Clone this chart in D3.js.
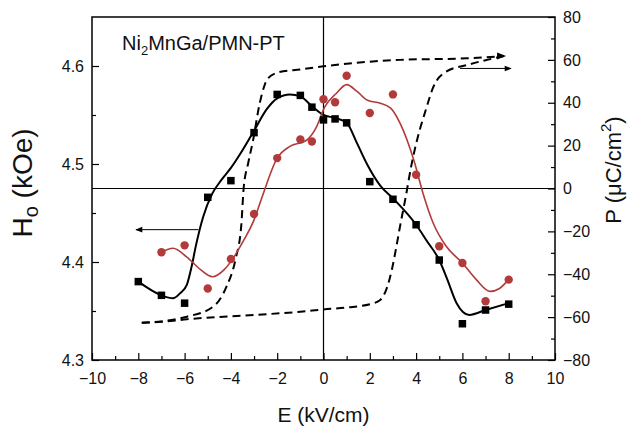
<!DOCTYPE html>
<html>
<head>
<meta charset="utf-8">
<script src="https://cdn.jsdelivr.net/npm/d3@7"></script>
<style>
  html, body { margin: 0; padding: 0; background: #fff; }
  svg { display: block; font-family: "Liberation Sans", Arial, sans-serif; }
</style>
</head>
<body>
<svg id="chart" width="628" height="428"></svg>
<script>
// ---- Data ----
const eBlack = [-8, -7, -6, -5, -4, -3, -2, -1, -0.5, 0, 0.5, 1, 2, 3, 4, 5, 6, 7, 8];
const hBlack = [4.380, 4.366, 4.358, 4.466, 4.483, 4.532, 4.571, 4.570, 4.558, 4.545, 4.546, 4.542, 4.482, 4.464, 4.438, 4.402, 4.337, 4.351, 4.357];

const eRed = [-7, -6, -5, -4, -3, -2, -1, -0.5, 0, 0.5, 1, 2, 3, 4, 5, 6, 7, 8];
const hRed = [4.410, 4.417, 4.373, 4.403, 4.449, 4.506, 4.525, 4.523, 4.566, 4.563, 4.590, 4.552, 4.571, 4.489, 4.416, 4.399, 4.360, 4.382];

// smoothed fit curves
const fitBlackE = [-8, -7, -6.5, -6.2, -5.9, -5.7, -5.5, -5.2, -4.8, -4.4, -4, -3.5, -3, -2.45, -2, -1.45, -1, -0.5, 0, 0.5, 1, 1.45, 1.9, 2.45, 3, 4, 4.45, 5, 5.35, 5.75, 6.3, 7, 8];
const fitBlackH = [4.380, 4.366, 4.363, 4.368, 4.377, 4.395, 4.418, 4.446, 4.470, 4.484, 4.496, 4.514, 4.534, 4.556, 4.567, 4.571, 4.569, 4.559, 4.550, 4.547, 4.542, 4.521, 4.499, 4.478, 4.465, 4.438, 4.422, 4.402, 4.382, 4.358, 4.346, 4.351, 4.358];

const fitRedE = [-7, -6.5, -5.9, -5.3, -4.8, -4.3, -3.9, -3.45, -3, -2.7, -2, -1.45, -0.75, -0.3, 0.05, 0.55, 1, 1.45, 1.9, 2.45, 2.9, 3.3, 3.9, 4.3, 4.75, 5.3, 6, 6.6, 7.2, 7.6, 8];
const fitRedH = [4.410, 4.414, 4.405, 4.392, 4.385, 4.392, 4.404, 4.422, 4.443, 4.463, 4.506, 4.518, 4.524, 4.538, 4.558, 4.572, 4.581, 4.574, 4.565, 4.562, 4.557, 4.542, 4.504, 4.470, 4.439, 4.416, 4.399, 4.382, 4.370, 4.373, 4.382];

// P-E hysteresis loop (right axis)
const loopLowerE = [-7.85, -7, -5.9, -3, -1, 0, 1, 2, 2.45, 2.75, 2.95, 3.15, 3.3, 3.55, 3.8, 4.05, 4.4, 4.75, 5.3, 6.2, 7.8];
const loopLowerP = [-62.6, -62.2, -61, -59, -57.5, -56.4, -55.5, -54, -52, -46, -38, -27, -18, -4, 11, 23, 36, 47.5, 54.5, 57.6, 61.8];
const loopUpperE = [-7.85, -7, -5.9, -4.75, -4.2, -3.8, -3.55, -3.45, -3.25, -3.05, -2.75, -2.4, -1.9, -1, 0, 3.3, 6.2, 7.8];
const loopUpperP = [-62.6, -62, -59.8, -55, -46, -33, -17, 0, 12, 22, 40, 51.4, 54.3, 55.5, 57, 60, 60.7, 61.8];

// axis ticks
const xTicks = [-10, -8, -6, -4, -2, 0, 2, 4, 6, 8, 10];
const yLeftTicks = [4.3, 4.4, 4.5, 4.6];
const yRightTicks = [-80, -60, -40, -20, 0, 20, 40, 60, 80];

// annotation arrows: [x1, y1, x2, y2] in data units
const arrowLeft = [-5.4, 4.433, -8.1, 4.433];   // left axis units
const arrowRight = [5.9, 56, 8.1, 56];          // right axis units

// ---- Layout ----
const svg = d3.select("#chart");
const L = 92, R = 555, T = 17, B = 360;

const x = d3.scaleLinear().domain([-10, 10]).range([L, R]);
const yL = d3.scaleLinear().domain([4.3, 4.65]).range([B, T]);
const yR = d3.scaleLinear().domain([-80, 80]).range([B, T]);

const red = "#b23a3a";

// defs: arrowheads
const defs = svg.append("defs");
defs.append("marker").attr("id", "ah").attr("viewBox", "0 0 10 10")
  .attr("refX", 9).attr("refY", 5).attr("markerWidth", 9).attr("markerHeight", 7)
  .attr("markerUnits", "userSpaceOnUse").attr("orient", "auto")
  .append("path").attr("d", "M0,1 L10,5 L0,9 Z").attr("fill", "#000");

// clip
defs.append("clipPath").attr("id", "clip").append("rect")
  .attr("x", L).attr("y", T).attr("width", R - L).attr("height", B - T);

// reference lines
svg.append("line").attr("x1", x(0)).attr("x2", x(0)).attr("y1", T).attr("y2", B)
  .attr("stroke", "#000").attr("stroke-width", 1.2);
svg.append("line").attr("x1", L).attr("x2", R).attr("y1", yR(0)).attr("y2", yR(0))
  .attr("stroke", "#000").attr("stroke-width", 1.2);

// axes
const fontSize = 16;
const xAxis = d3.axisBottom(x).tickValues(xTicks).tickSize(-7).tickPadding(13).tickFormat(d3.format("d"));
const xMinor = d3.axisBottom(x).tickValues(d3.range(-9, 10, 2)).tickSize(-4).tickFormat("");
svg.append("g").attr("transform", `translate(0,${B})`).call(xAxis);
svg.append("g").attr("transform", `translate(0,${B})`).call(xMinor);

const yLAxis = d3.axisLeft(yL).tickValues(yLeftTicks).tickSize(-7).tickPadding(8).tickFormat(d3.format(".1f"));
const yLMinor = d3.axisLeft(yL).tickValues([4.35, 4.45, 4.55]).tickSize(-4).tickFormat("");
svg.append("g").attr("transform", `translate(${L},0)`).call(yLAxis);
svg.append("g").attr("transform", `translate(${L},0)`).call(yLMinor);

const yRAxis = d3.axisRight(yR).tickValues(yRightTicks).tickSize(-7).tickPadding(8).tickFormat(d3.format("d"));
const yRMinor = d3.axisRight(yR).tickValues(d3.range(-70, 80, 20)).tickSize(-4).tickFormat("");
svg.append("g").attr("transform", `translate(${R},0)`).call(yRAxis);
svg.append("g").attr("transform", `translate(${R},0)`).call(yRMinor);

svg.selectAll(".tick text").attr("font-size", fontSize).attr("fill", "#111")
  .attr("font-family", "'Liberation Sans', Arial, sans-serif");
svg.selectAll(".domain").remove();
svg.selectAll(".tick line").attr("stroke", "#000").attr("stroke-width", 1.2);

// frame
svg.append("rect").attr("x", L).attr("y", T).attr("width", R - L).attr("height", B - T)
  .attr("fill", "none").attr("stroke", "#000").attr("stroke-width", 1.5);

const plot = svg.append("g").attr("clip-path", "url(#clip)");

// hysteresis loop
const loopLine = d3.line().x(d => x(d[0])).y(d => yR(d[1])).curve(d3.curveMonotoneX);
plot.append("path").datum(d3.zip(loopLowerE, loopLowerP)).attr("d", loopLine)
  .attr("fill", "none").attr("stroke", "#000").attr("stroke-width", 2).attr("stroke-dasharray", "8,5");
plot.append("path").datum(d3.zip(loopUpperE, loopUpperP)).attr("d", loopLine)
  .attr("fill", "none").attr("stroke", "#000").attr("stroke-width", 2).attr("stroke-dasharray", "8,5");
// small arrowhead at top right of the loop
{
  const n = loopUpperE.length;
  const ex = x(loopUpperE[n - 1]), ey = yR(loopUpperP[n - 1]);
  svg.append("path").attr("d", `M${ex - 7},${ey - 3.5} L${ex + 2},${ey} L${ex - 7},${ey + 3.5} Z`).attr("fill", "#000");
}

// fit curves
const fitLineL = d3.line().x(d => x(d[0])).y(d => yL(d[1])).curve(d3.curveMonotoneX);
plot.append("path").datum(d3.zip(fitBlackE, fitBlackH)).attr("d", fitLineL)
  .attr("fill", "none").attr("stroke", "#000").attr("stroke-width", 2);
plot.append("path").datum(d3.zip(fitRedE, fitRedH)).attr("d", fitLineL)
  .attr("fill", "none").attr("stroke", red).attr("stroke-width", 1.6);

// markers
const sq = 7.5;
plot.selectAll(".sq").data(d3.zip(eBlack, hBlack)).join("rect")
  .attr("x", d => x(d[0]) - sq / 2).attr("y", d => yL(d[1]) - sq / 2)
  .attr("width", sq).attr("height", sq).attr("fill", "#000");
plot.selectAll(".ci").data(d3.zip(eRed, hRed)).join("circle")
  .attr("cx", d => x(d[0])).attr("cy", d => yL(d[1])).attr("r", 4.2).attr("fill", red);

// annotation arrows
svg.append("line").attr("x1", x(arrowLeft[0])).attr("y1", yL(arrowLeft[1]))
  .attr("x2", x(arrowLeft[2])).attr("y2", yL(arrowLeft[3]))
  .attr("stroke", "#000").attr("stroke-width", 1).attr("marker-end", "url(#ah)");
svg.append("line").attr("x1", x(arrowRight[0])).attr("y1", yR(arrowRight[1]))
  .attr("x2", x(arrowRight[2])).attr("y2", yR(arrowRight[3]))
  .attr("stroke", "#000").attr("stroke-width", 1).attr("marker-end", "url(#ah)");

// sample label
const lab = svg.append("text").attr("x", 122).attr("y", 50).attr("font-size", 20).attr("fill", "#111");
lab.append("tspan").text("Ni");
lab.append("tspan").attr("font-size", 13).attr("dy", 5).text("2");
lab.append("tspan").attr("dy", -5).text("MnGa/PMN-PT");

// axis titles
svg.append("text").attr("x", x(0)).attr("y", 422).attr("text-anchor", "middle")
  .attr("font-size", 21).attr("fill", "#111").text("E (kV/cm)");

const lt = svg.append("text").attr("transform", "translate(32,183) rotate(-90)")
  .attr("text-anchor", "middle").attr("font-size", 28).attr("fill", "#111");
lt.append("tspan").text("H");
lt.append("tspan").attr("font-size", 20).attr("dy", 6).text("o");
lt.append("tspan").attr("dy", -6).text(" (kOe)");

const rt = svg.append("text").attr("transform", "translate(621,170) rotate(-90)")
  .attr("text-anchor", "middle").attr("font-size", 22).attr("fill", "#111");
rt.append("tspan").text("P  (\u03BCC/cm");
rt.append("tspan").attr("font-size", 15).attr("dy", -10).text("2");
rt.append("tspan").attr("dy", 10).text(")");
</script>
</body>
</html>
